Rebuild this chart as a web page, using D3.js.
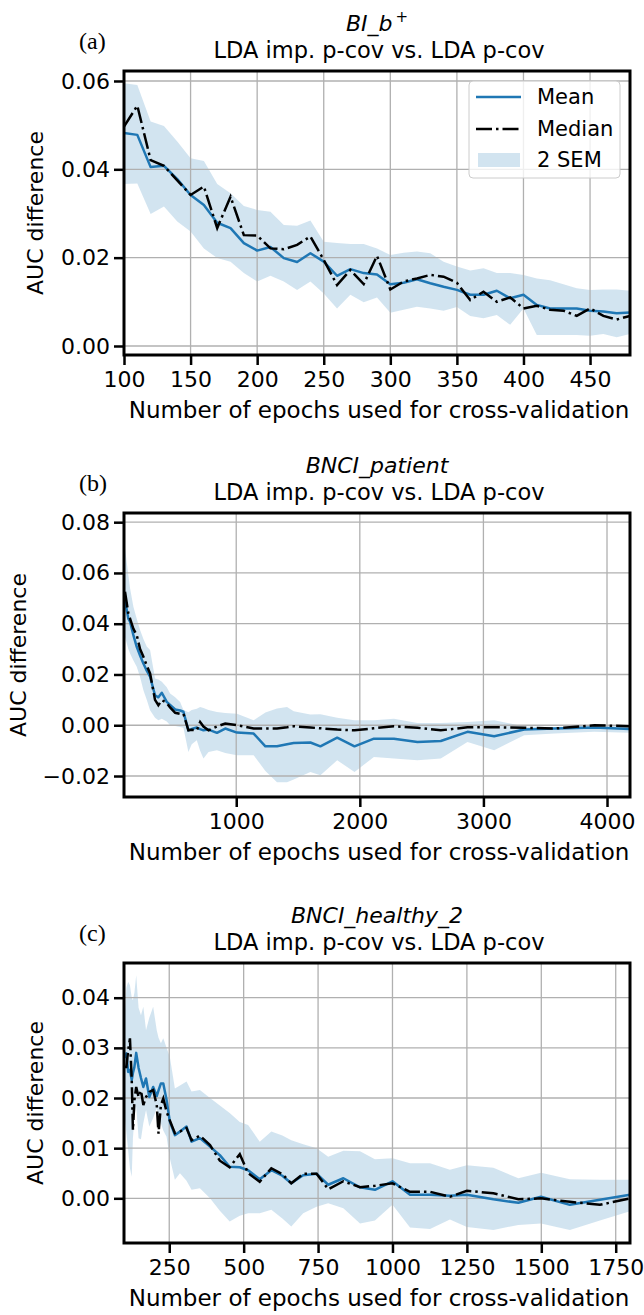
<!DOCTYPE html>
<html>
<head>
<meta charset="utf-8">
<script src="https://cdn.jsdelivr.net/npm/d3@7"></script>
<style>
  html, body { margin: 0; padding: 0; background: #fff; }
  svg { display: block; }
  text { fill: #000; }
</style>
</head>
<body>
<svg id="chart" width="644" height="1315"></svg>
<script>
// ---------- (a) BI_b+ ----------
const epochsA = [100,110,120,130,140,150,160,170,180,190,200,210,220,230,240,250,260,270,280,290,
                 300,310,320,330,340,350,360,370,380,390,400,410,420,430,440,450,460,470,480];
const meanA   = [0.0482,0.0478,0.0405,0.0408,0.0378,0.0342,0.0319,0.0279,0.0267,0.0233,0.0216,0.0224,0.0199,0.0190,0.0210,0.0191,0.0159,0.0174,0.0165,0.0162,
                 0.0140,0.0143,0.0151,0.0142,0.0134,0.0127,0.0116,0.0116,0.0125,0.0108,0.0116,0.0093,0.0085,0.0085,0.0085,0.0080,0.0078,0.0074,0.0076];
const medianA = [0.0497,0.0544,0.0421,0.0408,0.0375,0.0342,0.0361,0.0267,0.0338,0.0251,0.0250,0.0221,0.0219,0.0229,0.0248,0.0195,0.0138,0.0172,0.0140,0.0204,
                 0.0128,0.0146,0.0153,0.0161,0.0157,0.0143,0.0104,0.0123,0.0100,0.0110,0.0085,0.0091,0.0082,0.0080,0.0068,0.0085,0.0068,0.0060,0.0068];
const upperA  = [0.0595,0.0591,0.0508,0.0498,0.0463,0.0425,0.0419,0.0367,0.0346,0.0317,0.0308,0.0304,0.0274,0.0272,0.0284,0.0236,0.0233,0.0231,0.0231,0.0221,
                 0.0206,0.0211,0.0214,0.0210,0.0191,0.0180,0.0171,0.0176,0.0165,0.0165,0.0161,0.0153,0.0149,0.0140,0.0131,0.0127,0.0128,0.0128,0.0125];
const lowerA  = [0.0367,0.0368,0.0299,0.0316,0.0282,0.0259,0.0221,0.0199,0.0191,0.0165,0.0146,0.0159,0.0146,0.0127,0.0146,0.0119,0.0085,0.0116,0.0099,0.0110,
                 0.0075,0.0082,0.0089,0.0085,0.0080,0.0088,0.0068,0.0063,0.0070,0.0048,0.0085,0.0025,0.0025,0.0025,0.0025,0.0023,0.0027,0.0020,0.0027];
const xTicksA = [100,150,200,250,300,350,400,450];
const yTicksA = [0.00,0.02,0.04,0.06];

// ---------- (b) BNCI_patient ----------
const epochsB = [100,127,141,168,195,222,249,276,303,343,370,398,438,465,506,546,573,613,640,681,708,735,776,844,911,
                 1006,1141,1236,1330,1411,1465,1600,1681,1817,1957,2114,2276,2466,2655,2871,3087,3330,3574,3898,4182];
const meanB   = [0.0493,0.0420,0.0408,0.0355,0.0309,0.0275,0.0243,0.0215,0.0191,0.0118,0.0110,0.0128,0.0092,0.0080,0.0062,0.0058,0.0053,-0.0020,-0.0015,-0.0009,-0.0015,-0.0020,-0.0017,-0.0030,-0.0013,
                 -0.0029,-0.0033,-0.0083,-0.0083,-0.0075,-0.0070,-0.0068,-0.0083,-0.0049,-0.0083,-0.0053,-0.0053,-0.0066,-0.0062,-0.0026,-0.0043,-0.0017,-0.0013,-0.0009,-0.0015];
const medianB = [0.0526,0.0441,0.0420,0.0380,0.0355,0.0300,0.0270,0.0235,0.0204,0.0100,0.0079,0.0099,0.0088,0.0070,0.0049,0.0045,0.0045,-0.0020,-0.0018,-0.0020,0.0013,-0.0005,-0.0020,-0.0005,0.0007,
                 0.0000,-0.0013,-0.0013,-0.0013,-0.0008,-0.0004,-0.0009,-0.0012,-0.0017,-0.0020,-0.0012,-0.0004,-0.0010,-0.0020,-0.0008,-0.0008,-0.0010,-0.0013,0.0000,-0.0004];
const upperB  = [0.0697,0.0592,0.0540,0.0467,0.0420,0.0375,0.0340,0.0310,0.0296,0.0184,0.0180,0.0171,0.0150,0.0125,0.0110,0.0092,0.0060,0.0051,0.0060,0.0065,0.0072,0.0068,0.0060,0.0052,0.0048,
                 0.0045,0.0020,0.0050,0.0066,0.0072,0.0055,0.0042,0.0043,0.0030,0.0020,0.0020,0.0026,0.0009,0.0009,0.0013,0.0020,-0.0005,-0.0007,-0.0002,-0.0004];
const lowerB  = [0.0348,0.0300,0.0283,0.0255,0.0230,0.0190,0.0138,0.0100,0.0059,0.0030,0.0020,0.0026,0.0015,0.0000,-0.0003,-0.0007,-0.0010,-0.0105,-0.0075,-0.0059,-0.0100,-0.0131,-0.0105,-0.0099,-0.0109,
                 -0.0118,-0.0118,-0.0180,-0.0225,-0.0225,-0.0214,-0.0184,-0.0197,-0.0138,-0.0184,-0.0125,-0.0131,-0.0138,-0.0131,-0.0066,-0.0099,-0.0039,-0.0033,-0.0026,-0.0030];
const xTicksB = [1000,2000,3000,4000];
const yTicksB = [-0.02,0.00,0.02,0.04,0.06,0.08];

// ---------- (c) BNCI_healthy_2 ----------
const epochsC = [100,106,112,118,124,128,133,139,147,155,163,172,183,196,208,214,222,230,241,252,269,286,308,325,353,387,420,453,487,515,
                 554,593,630,660,700,745,784,835,891,941,1000,1059,1126,1193,1250,1339,1423,1499,1596,1697,1798];
const meanC   = [0.0280,0.0289,0.0252,0.0256,0.0236,0.0250,0.0262,0.0290,0.0260,0.0240,0.0222,0.0239,0.0202,0.0222,0.0204,0.0215,0.0229,0.0229,0.0196,0.0153,0.0126,0.0133,0.0143,0.0113,0.0120,0.0103,0.0086,0.0063,0.0062,0.0056,
                 0.0038,0.0056,0.0045,0.0030,0.0046,0.0049,0.0027,0.0040,0.0022,0.0017,0.0034,0.0007,0.0007,0.0005,0.0007,-0.0002,-0.0009,0.0003,-0.0013,-0.0003,0.0007];
const medianC = [0.0262,0.0262,0.0295,0.0319,0.0236,0.0136,0.0196,0.0222,0.0202,0.0215,0.0186,0.0202,0.0212,0.0216,0.0186,0.0129,0.0186,0.0199,0.0173,0.0155,0.0130,0.0133,0.0140,0.0116,0.0125,0.0106,0.0075,0.0062,0.0088,0.0050,
                 0.0033,0.0060,0.0048,0.0030,0.0049,0.0049,0.0018,0.0034,0.0022,0.0025,0.0030,0.0013,0.0013,0.0003,0.0015,0.0010,-0.0002,0.0000,-0.0007,-0.0013,0.0000];
const upperC  = [0.0360,0.0420,0.0432,0.0425,0.0400,0.0395,0.0410,0.0445,0.0380,0.0365,0.0382,0.0335,0.0360,0.0382,0.0335,0.0320,0.0309,0.0319,0.0300,0.0282,0.0219,0.0225,0.0233,0.0213,0.0216,0.0200,0.0185,0.0170,0.0152,0.0146,
                 0.0113,0.0133,0.0125,0.0116,0.0108,0.0100,0.0083,0.0095,0.0094,0.0078,0.0080,0.0070,0.0070,0.0057,0.0066,0.0061,0.0040,0.0051,0.0038,0.0037,0.0037];
const lowerC  = [0.0165,0.0130,0.0096,0.0060,0.0043,0.0120,0.0160,0.0183,0.0120,0.0118,0.0150,0.0176,0.0143,0.0160,0.0179,0.0160,0.0149,0.0135,0.0123,0.0080,0.0037,0.0050,0.0035,0.0017,0.0020,0.0000,-0.0025,-0.0046,-0.0035,-0.0030,
                 -0.0030,-0.0023,-0.0040,-0.0056,-0.0030,-0.0017,-0.0010,-0.0020,-0.0050,-0.0044,-0.0013,-0.0058,-0.0061,-0.0042,-0.0057,-0.0063,-0.0053,-0.0050,-0.0063,-0.0044,-0.0026];
const xTicksC = [250,500,750,1000,1250,1500,1750];
const yTicksC = [0.00,0.01,0.02,0.03,0.04];

const legendLabels = ["Mean", "Median", "2 SEM"];

// ---------- drawing ----------
const BLUE = "#1f77b4";
const SANS = "DejaVu Sans";
const FS = 22;
const svg = d3.select("#chart");
svg.append("rect").attr("width", 644).attr("height", 1315).attr("fill", "#fff");

const LEFT = 124, RIGHT = 630;

const panels = [
  { tag: "(a)", title: [["BI_b", true], ["+", false, true]], top: 71, bottom: 355,
    xDomain: [100, 480], yDomain: [-0.00204, 0.06226],
    epochs: epochsA, mean: meanA, median: medianA, upper: upperA, lower: lowerA,
    xTicks: xTicksA, yTicks: yTicksA, yFmt: d3.format(".2f"), yLabelX: 35, legend: true },
  { tag: "(b)", title: [["BNCI_patient", true]], top: 513, bottom: 797,
    xDomain: [92, 4186], yDomain: [-0.02827, 0.08362],
    epochs: epochsB, mean: meanB, median: medianB, upper: upperB, lower: lowerB,
    xTicks: xTicksB, yTicks: yTicksB, yFmt: d3.format(".2f"), yLabelX: 18, legend: false },
  { tag: "(c)", title: [["BNCI_healthy_2", true]], top: 963, bottom: 1243,
    xDomain: [98, 1798], yDomain: [-0.00891, 0.04692],
    epochs: epochsC, mean: meanC, median: medianC, upper: upperC, lower: lowerC,
    xTicks: xTicksC, yTicks: yTicksC, yFmt: d3.format(".2f"), yLabelX: 35, legend: false }
];

panels.forEach((p, i) => {
  const x = d3.scaleLinear().domain(p.xDomain).range([LEFT, RIGHT]);
  const y = d3.scaleLinear().domain(p.yDomain).range([p.bottom, p.top]);
  const g = svg.append("g").style("font-family", SANS);
  const clipId = "clip" + i;
  g.append("clipPath").attr("id", clipId).append("rect")
    .attr("x", LEFT).attr("y", p.top).attr("width", RIGHT - LEFT).attr("height", p.bottom - p.top);

  const rows = p.epochs.map((e, k) => ({ e, mean: p.mean[k], median: p.median[k], lo: p.lower[k], hi: p.upper[k] }));

  // 2 SEM band
  g.append("path").datum(rows)
    .attr("clip-path", `url(#${clipId})`)
    .attr("fill", BLUE).attr("fill-opacity", 0.2)
    .attr("d", d3.area().x(d => x(d.e)).y0(d => y(d.lo)).y1(d => y(d.hi)));

  // grid
  const grid = g.append("g").attr("stroke", "#b0b0b0").attr("stroke-width", 1.3);
  grid.selectAll(".gx").data(p.xTicks).join("line")
    .attr("x1", d => x(d)).attr("x2", d => x(d)).attr("y1", p.top).attr("y2", p.bottom);
  grid.selectAll(".gy").data(p.yTicks).join("line")
    .attr("x1", LEFT).attr("x2", RIGHT).attr("y1", d => y(d)).attr("y2", d => y(d));

  // mean and median
  const lineGen = key => d3.line().x(d => x(d.e)).y(d => y(d[key]));
  g.append("path").datum(rows).attr("clip-path", `url(#${clipId})`)
    .attr("fill", "none").attr("stroke", BLUE).attr("stroke-width", 2.5)
    .attr("stroke-linejoin", "round").attr("d", lineGen("mean"));
  g.append("path").datum(rows).attr("clip-path", `url(#${clipId})`)
    .attr("fill", "none").attr("stroke", "#000").attr("stroke-width", 2.5)
    .attr("stroke-dasharray", "16,4,2.5,4").attr("d", lineGen("median"));

  // axes
  const xAxis = d3.axisBottom(x).tickValues(p.xTicks).tickSize(10).tickPadding(6).tickFormat(d3.format("d"));
  const yAxis = d3.axisLeft(y).tickValues(p.yTicks).tickSize(10).tickPadding(4).tickFormat(p.yFmt);
  const gx = g.append("g").attr("transform", `translate(0,${p.bottom})`).call(xAxis);
  const gy = g.append("g").attr("transform", `translate(${LEFT},0)`).call(yAxis);
  [gx, gy].forEach(ax => {
    ax.select(".domain").remove();
    ax.selectAll(".tick line").attr("stroke", "#000").attr("stroke-width", 2.5);
    ax.selectAll(".tick text").attr("font-size", FS).style("font-family", SANS).attr("fill", "#000");
  });

  // frame
  g.append("rect").attr("x", LEFT).attr("y", p.top)
    .attr("width", RIGHT - LEFT).attr("height", p.bottom - p.top)
    .attr("fill", "none").attr("stroke", "#000").attr("stroke-width", 3);

  // axis labels
  g.append("text").attr("x", (LEFT + RIGHT) / 2 + 2).attr("y", p.bottom + 63)
    .attr("text-anchor", "middle").attr("font-size", 23)
    .text("Number of epochs used for cross-validation");
  g.append("text")
    .attr("transform", `translate(${p.yLabelX},${(p.top + p.bottom) / 2}) rotate(-90)`)
    .attr("text-anchor", "middle").attr("dominant-baseline", "central").attr("font-size", FS)
    .text("AUC difference");

  // titles
  const t1 = g.append("text").attr("x", (LEFT + RIGHT) / 2).attr("y", p.top - 40)
    .attr("text-anchor", "middle").attr("font-size", FS);
  p.title.forEach(([s, ital, sup]) => {
    const ts = t1.append("tspan").text(s).attr("font-style", ital ? "italic" : "normal");
    if (sup) ts.attr("dy", -9).attr("dx", 3).attr("font-size", 15);
  });
  g.append("text").attr("x", (LEFT + RIGHT) / 2 + 2).attr("y", p.top - 13)
    .attr("text-anchor", "middle").attr("font-size", 22.5)
    .text("LDA imp. p-cov vs. LDA p-cov");
  g.append("text").attr("x", 79).attr("y", p.top - 22)
    .style("font-family", "Liberation Serif").attr("font-size", 24)
    .text(p.tag);

  // legend
  if (p.legend) {
    const lg = g.append("g");
    lg.append("rect").attr("x", 469).attr("y", 81).attr("width", 151).attr("height", 97).attr("rx", 4)
      .attr("fill", "#fff").attr("fill-opacity", 0.8).attr("stroke", "#ccc").attr("stroke-width", 1);
    const ys = [97, 129, 160];
    lg.append("line").attr("x1", 476).attr("x2", 521).attr("y1", ys[0]).attr("y2", ys[0])
      .attr("stroke", BLUE).attr("stroke-width", 2.5);
    lg.append("line").attr("x1", 476).attr("x2", 521).attr("y1", ys[1]).attr("y2", ys[1])
      .attr("stroke", "#000").attr("stroke-width", 2.5).attr("stroke-dasharray", "16,4,2.5,4");
    lg.append("rect").attr("x", 478).attr("y", ys[2] - 7).attr("width", 42).attr("height", 14)
      .attr("fill", BLUE).attr("fill-opacity", 0.2);
    lg.selectAll(".lt").data(legendLabels).join("text")
      .attr("x", 537).attr("y", (d, k) => ys[k]).attr("dominant-baseline", "central")
      .attr("font-size", 21).text(d => d);
  }
});
</script>
</body>
</html>
